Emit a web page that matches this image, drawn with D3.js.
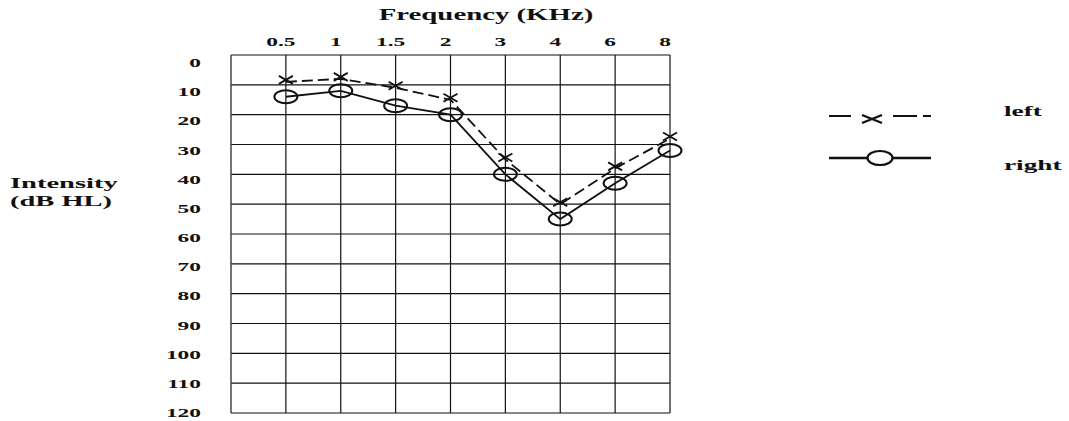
<!DOCTYPE html>
<html>
<head>
<meta charset="utf-8">
<script src="https://cdn.jsdelivr.net/npm/d3@7"></script>
<style>
  html, body { margin: 0; padding: 0; background: #fff; }
  svg { display: block; }
  text { font-family: "Liberation Serif", "DejaVu Serif", serif; font-weight: bold; fill: #111; }
</style>
</head>
<body>
<svg id="chart" width="1069" height="421"></svg>
<script>
// ---- data ----
const frequencies = ["0.5", "1", "1.5", "2", "3", "4", "6", "8"];
const leftEar  = [9, 8, 11, 15, 35, 50, 38, 28];
const rightEar = [14, 12, 17, 20, 40, 55, 43, 32];
const dbTicks  = [0, 10, 20, 30, 40, 50, 60, 70, 80, 90, 100, 110, 120];
const seriesNames = ["left", "right"];
const xTitle = "Frequency (KHz)";
const yTitle = ["Intensity", "(dB HL)"];

// ---- layout ----
const svg = d3.select("#chart");
const plotL = 231, plotR = 670, plotT = 55, plotB = 413;
const stepX = (plotR - plotL) / frequencies.length;

const x = d3.scalePoint().domain(frequencies).range([plotL + stepX, plotR]);
const y = d3.scaleLinear().domain([0, 120]).range([plotT, plotB]);
const yLab = d3.scaleLinear().domain([0, 120]).range([plotT + 8, plotB]);

// stretched text helper (the reference text is horizontally stretched)
function sText(parent, px, py, str, size, sx, anchor) {
  const g = parent.append("g").attr("transform", `translate(${px},${py}) scale(${sx},1)`);
  g.append("text").attr("x", 0).attr("y", 0)
    .attr("font-size", size)
    .attr("text-anchor", anchor || "start")
    .text(str);
  return g;
}

// ---- grid ----
const grid = svg.append("g");
grid.selectAll("line.h").data(dbTicks).join("line")
  .attr("x1", plotL).attr("x2", plotR)
  .attr("y1", d => y(d)).attr("y2", d => y(d))
  .attr("stroke", "#111").attr("stroke-width", 1.2);
grid.selectAll("line.v").data(frequencies).join("line")
  .attr("x1", d => x(d)).attr("x2", d => x(d))
  .attr("y1", plotT).attr("y2", plotB)
  .attr("stroke", "#111").attr("stroke-width", 1.2);
grid.append("line")
  .attr("x1", plotL).attr("x2", plotL).attr("y1", plotT).attr("y2", plotB)
  .attr("stroke", "#444").attr("stroke-width", 1.5);

// ---- axis labels ----
const xAxisG = svg.append("g");
frequencies.forEach(f => sText(xAxisG, x(f) - 5, 46, f, 13, 1.8, "middle"));
const yAxisG = svg.append("g");
dbTicks.forEach(t => sText(yAxisG, 201, yLab(t) + 4, String(t), 12, 1.95, "end"));

sText(svg, 486, 20, xTitle, 16, 1.8, "middle");
sText(svg, 10, 188, yTitle[0], 15, 1.9, "start");
sText(svg, 10, 206, yTitle[1], 15, 1.9, "start");

// ---- series ----
const leftPts  = frequencies.map((f, i) => [x(f), y(leftEar[i])]);
const rightPts = frequencies.map((f, i) => [x(f), y(rightEar[i])]);
const line = d3.line();

svg.append("path").attr("d", line(leftPts))
  .attr("fill", "none").attr("stroke", "#111").attr("stroke-width", 1.8)
  .attr("stroke-dasharray", "11,5");
svg.append("path").attr("d", line(rightPts))
  .attr("fill", "none").attr("stroke", "#111").attr("stroke-width", 1.8);

function xMark(parent, cx, cy, w, h, sw) {
  parent.append("path")
    .attr("d", `M${cx - w / 2},${cy - h / 2}L${cx + w / 2},${cy + h / 2}M${cx - w / 2},${cy + h / 2}L${cx + w / 2},${cy - h / 2}`)
    .attr("stroke", "#111").attr("stroke-width", sw || 1.8).attr("fill", "none");
}

const mk = svg.append("g");
leftPts.forEach(p => xMark(mk, p[0], p[1] - 2, 14, 8));
mk.selectAll("ellipse").data(rightPts).join("ellipse")
  .attr("cx", d => d[0]).attr("cy", d => d[1])
  .attr("rx", 11.5).attr("ry", 6.5)
  .attr("fill", "none").attr("stroke", "#111").attr("stroke-width", 2);

// ---- legend ----
const lg = svg.append("g");
lg.append("path").attr("d", line([[829, 116], [931, 116]]))
  .attr("stroke", "#111").attr("stroke-width", 2.2).attr("fill", "none")
  .attr("stroke-dasharray", "22,42,24,6,8");
xMark(lg, 872, 119, 20, 8, 2.4);
lg.append("path").attr("d", line([[829, 158], [931, 158]]))
  .attr("stroke", "#111").attr("stroke-width", 2.4).attr("fill", "none");
lg.append("ellipse").attr("cx", 880).attr("cy", 158).attr("rx", 12.5).attr("ry", 7)
  .attr("fill", "#fff").attr("stroke", "#111").attr("stroke-width", 2.2);
sText(lg, 1004, 116, seriesNames[0], 14, 1.95, "start");
sText(lg, 1004, 170, seriesNames[1], 14, 1.95, "start");
</script>
</body>
</html>
